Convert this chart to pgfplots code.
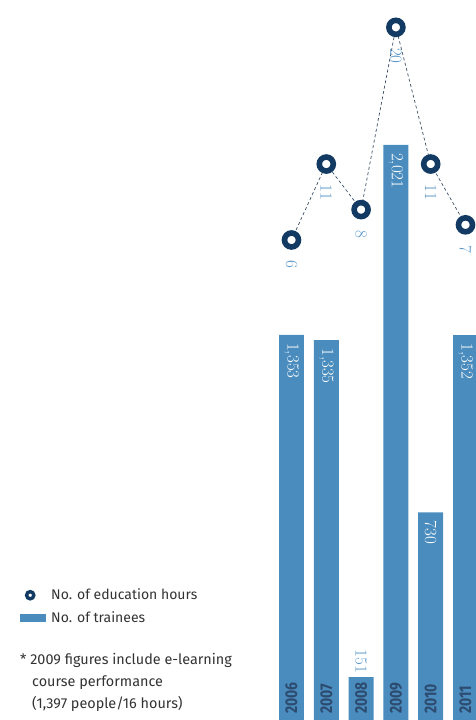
\documentclass[border=0pt]{standalone}
\usepackage{pgfplots}
\pgfplotsset{compat=1.18}
\usepackage{fontspec}
\newfontfamily\sansf{Fira Sans}
\newfontfamily\yearf[FakeStretch=0.82]{Fira Sans}
\definecolor{barblue}{HTML}{4A8CBD}
\definecolor{navy}{HTML}{133A63}
\definecolor{dashc}{HTML}{3B4E68}
\definecolor{yeartxt}{HTML}{2C4B6F}
\definecolor{lbl}{HTML}{5A97C9}
\definecolor{txtgray}{HTML}{333333}
\begin{document}
\begin{tikzpicture}
\path[use as bounding box] (0pt,0pt) rectangle (476pt,720pt);
\begin{axis}[at={(0pt,0pt)}, anchor=south west, width=476pt, height=720pt,
  scale only axis, hide axis, clip=false,
  xmin=-8.376, xmax=5.302, ymin=0, ymax=2530]
\addplot[ybar, bar width=0.718, fill=barblue, draw=none,
  nodes near coords, point meta=explicit symbolic,
  nodes near coords style={rotate=-90, anchor=west, inner xsep=8pt, inner ysep=0pt,
    text=white, font=\fontsize{17}{17}\selectfont}]
  table[meta=lab] {
x y lab
0 1353 1,353
1 1335 1,335
2 151 {}
3 2021 2,021
4 730 730
5 1352 1,352
};
\addplot[draw=none, mark=none, nodes near coords, point meta=explicit symbolic,
  nodes near coords style={rotate=-90, anchor=east, inner xsep=4pt, inner ysep=0pt,
    text=lbl, font=\fontsize{17}{17}\selectfont}]
  table[meta=lab] {
x y lab
2 151 151
};
\addplot[draw=none, mark=none, nodes near coords, point meta=explicit symbolic,
  nodes near coords style={rotate=90, anchor=west, inner xsep=6pt, inner ysep=0pt,
    text=yeartxt, font=\yearf\bfseries\fontsize{17}{17}\selectfont}]
  table[meta=lab] {
x y lab
0 0 2006
1 0 2007
2 0 2008
3 0 2009
4 0 2010
5 0 2011
};
\end{axis}
\begin{axis}[at={(0pt,0pt)}, anchor=south west, width=476pt, height=720pt,
  scale only axis, hide axis, clip=false,
  xmin=-8.376, xmax=5.302, ymin=-25.6, ymax=21.8,
  legend cell align=left,
  legend style={draw=none, fill=none, inner sep=0pt, outer sep=0pt,
    at={(0.042,0.1847)}, anchor=north west, row sep=6pt,
    font=\sansf\fontsize{14}{16}\selectfont, text=txtgray,
    /tikz/every even column/.append style={column sep=4pt}}]
\addplot[dashc, line width=0.7pt, dash pattern=on 3pt off 2.5pt,
  mark=*, mark size=7pt, mark options={solid, fill=white, draw=navy, line width=5.6pt},
  nodes near coords, point meta=explicit symbolic,
  nodes near coords style={rotate=-90, anchor=west, inner xsep=18pt, inner ysep=0pt,
    text=lbl, font=\fontsize{17}{17}\selectfont}, forget plot]
  table[meta=lab] {
x y lab
0 6 6
1 11 11
2 8 8
3 20 20
4 11 11
5 7 7
};
\addlegendimage{legend image code/.code={\path[draw=none, fill=none] (0pt,0pt) -- (29pt,0pt); \draw[navy, line width=3.4pt] (10pt,0pt) circle (3.6pt);}}
\addlegendentry{No. of education hours}
\addlegendimage{legend image code/.code={\path[draw=none, fill=none] (0pt,0pt) -- (29pt,0pt); \fill[barblue] (0pt,-3.5pt) rectangle (25pt,3.5pt);}}
\addlegendentry{No. of trainees}
\end{axis}
\node[anchor=base west, inner sep=0pt, font=\sansf\fontsize{14.4}{16}\selectfont, text=txtgray] at (20pt,55pt) {* 2009 figures include e-learning};
\node[anchor=base west, inner sep=0pt, font=\sansf\fontsize{14.4}{16}\selectfont, text=txtgray] at (32pt,33pt) {course performance};
\node[anchor=base west, inner sep=0pt, font=\sansf\fontsize{14.4}{16}\selectfont, text=txtgray] at (32pt,11pt) {(1,397 people/16 hours)};
\end{tikzpicture}
\end{document}
